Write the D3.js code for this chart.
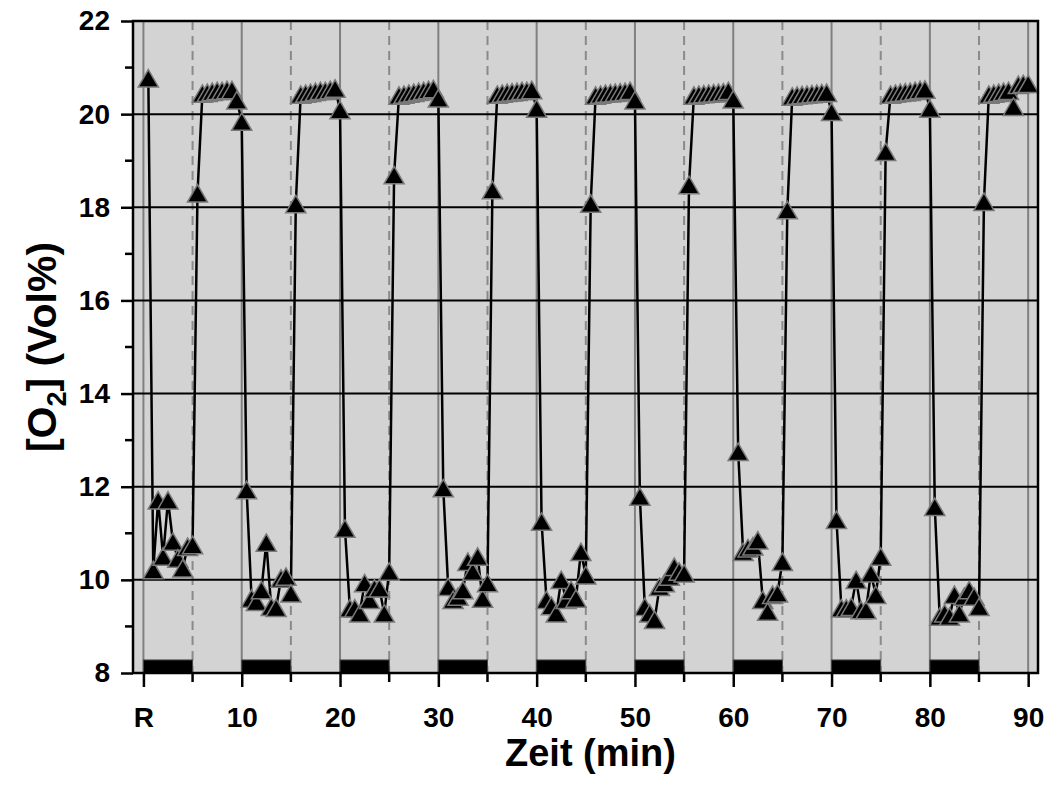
<!DOCTYPE html>
<html>
<head>
<meta charset="utf-8">
<script src="https://cdn.jsdelivr.net/npm/d3@7"></script>
<style>
  body { margin: 0; background: #fff; }
  svg text { font-family: 'Liberation Sans', Arial, sans-serif; font-weight: bold; fill: #000; }
</style>
</head>
<body>
<div class="chart"></div>
<script>
// O2 concentration, sampled every 0.5 min; one array per 10-min cycle (t = 10k + 0.5 ... 10k + 10)
const STEP = 0.5
const cycle00 = [20.77, 10.21, 11.71, 10.5, 11.71, 10.82, 10.46, 10.25, 10.71, 10.75, 18.3, 20.44, 20.46, 20.48, 20.5, 20.5, 20.52, 20.52, 20.3, 19.84]
const cycle10 = [11.93, 9.6, 9.53, 9.78, 10.8, 9.42, 9.4, 10.03, 10.07, 9.71, 18.07, 20.42, 20.44, 20.46, 20.48, 20.5, 20.5, 20.52, 20.55, 20.09]
const cycle20 = [11.1, 9.39, 9.39, 9.28, 9.93, 9.57, 9.82, 9.82, 9.28, 10.18, 18.69, 20.4, 20.42, 20.44, 20.46, 20.48, 20.5, 20.52, 20.54, 20.34]
const cycle30 = [11.97, 9.85, 9.57, 9.64, 9.78, 10.39, 10.18, 10.5, 9.6, 9.93, 18.37, 20.42, 20.44, 20.46, 20.47, 20.48, 20.5, 20.5, 20.52, 20.12]
const cycle40 = [11.25, 9.57, 9.44, 9.28, 10.0, 9.57, 9.78, 9.6, 10.6, 10.1, 18.08, 20.4, 20.42, 20.44, 20.45, 20.46, 20.47, 20.48, 20.5, 20.3]
const cycle50 = [11.79, 9.42, 9.28, 9.14, 9.85, 9.93, 10.07, 10.28, 10.18, 10.14, 18.48, 20.4, 20.42, 20.43, 20.44, 20.45, 20.46, 20.47, 20.5, 20.32]
const cycle60 = [12.75, 10.6, 10.68, 10.72, 10.85, 9.57, 9.32, 9.68, 9.71, 10.39, 17.94, 20.38, 20.4, 20.41, 20.42, 20.43, 20.44, 20.45, 20.46, 20.05]
const cycle70 = [11.29, 9.39, 9.39, 9.42, 10.0, 9.35, 9.35, 10.14, 9.68, 10.5, 19.19, 20.42, 20.44, 20.46, 20.47, 20.48, 20.5, 20.52, 20.53, 20.12]
const cycle80 = [11.57, 9.21, 9.28, 9.21, 9.68, 9.28, 9.64, 9.78, 9.64, 9.42, 18.12, 20.42, 20.44, 20.46, 20.48, 20.5, 20.16, 20.63, 20.65, 20.65]

// low-O2 phases (black bars on the x axis)
const phaseStarts = [0, 10, 20, 30, 40, 50, 60, 70, 80]
const phaseLength = 5

const xTicks = [0, 10, 20, 30, 40, 50, 60, 70, 80, 90]
const xMinorTicks = [5, 15, 25, 35, 45, 55, 65, 75, 85]
const yTicks = [8, 10, 12, 14, 16, 18, 20, 22]
const yMinorTicks = [9, 11, 13, 15, 17, 19, 21]
const yGrid = [10, 12, 14, 16, 18, 20]

const values = [].concat(cycle00, cycle10, cycle20, cycle30, cycle40, cycle50, cycle60, cycle70, cycle80)
const data = values.map((v, i) => ({ t: (i + 1) * STEP, o2: v }))

const W = 1049
const H = 789
const margin = {top: 21, right: 11, bottom: 116, left: 133}
const width = W - margin.left - margin.right
const height = H - margin.top - margin.bottom

const x = d3.scaleLinear().domain([-1.06, 91.0]).range([0, width])
const y = d3.scaleLinear().domain([8, 22]).range([height, 0])

const svg = d3.select('.chart').append('svg')
  .attr('width', W)
  .attr('height', H)

const g = svg.append('g')
  .attr('transform', `translate(${margin.left},${margin.top})`)

g.append('rect')
  .attr('width', width)
  .attr('height', height)
  .attr('fill', '#d3d3d3')

// vertical reference lines
g.selectAll('line.vmajor').data(xTicks).enter().append('line')
  .attr('class', 'vmajor')
  .attr('x1', d => x(d)).attr('x2', d => x(d))
  .attr('y1', 0).attr('y2', height)
  .attr('stroke', '#808080')
  .attr('stroke-width', 2)

g.selectAll('line.vminor').data(xMinorTicks).enter().append('line')
  .attr('class', 'vminor')
  .attr('x1', d => x(d)).attr('x2', d => x(d))
  .attr('y1', 0).attr('y2', height)
  .attr('stroke', '#8a8a8a')
  .attr('stroke-width', 2)
  .attr('stroke-dasharray', '9,6')

g.selectAll('line.hgrid').data(yGrid).enter().append('line')
  .attr('class', 'hgrid')
  .attr('x1', 0).attr('x2', width)
  .attr('y1', d => y(d)).attr('y2', d => y(d))
  .attr('stroke', '#000')
  .attr('stroke-width', 2)

// phase bars
g.selectAll('rect.phase').data(phaseStarts).enter().append('rect')
  .attr('class', 'phase')
  .attr('x', d => x(d))
  .attr('width', d => x(d + phaseLength) - x(d))
  .attr('y', y(8.28))
  .attr('height', y(8) - y(8.28))
  .attr('fill', '#000')
  .attr('stroke', '#444')
  .attr('stroke-width', 1)

// series line
const line = d3.line().x(d => x(d.t)).y(d => y(d.o2))
g.append('path')
  .datum(data)
  .attr('fill', 'none')
  .attr('stroke', '#000')
  .attr('stroke-width', 2.5)
  .attr('stroke-linejoin', 'round')
  .attr('d', line)

// triangles, centred on their bounding box
const triSize = 175
const triR = Math.sqrt(triSize / (3 * Math.sqrt(3)))
const tri = d3.symbol().type(d3.symbolTriangle).size(triSize)
g.selectAll('path.item').data(data).enter().append('path')
  .attr('class', 'item')
  .attr('d', tri)
  .attr('transform', d => `translate(${x(d.t)},${y(d.o2) + triR / 2})`)
  .attr('fill', '#000')
  .attr('stroke', '#7a7a7a')
  .attr('stroke-width', 1.5)

// frame
g.append('rect')
  .attr('width', width)
  .attr('height', height)
  .attr('fill', 'none')
  .attr('stroke', '#000')
  .attr('stroke-width', 2.5)

// axes
const axisY = d3.axisLeft(y).tickValues(yTicks).tickSize(12).tickPadding(11)
const gy = g.append('g').call(axisY)
gy.select('.domain').remove()
gy.selectAll('.tick line').attr('stroke', '#000').attr('stroke-width', 2.5)
gy.selectAll('.tick text').style('font-size', '28px')

g.append('g').selectAll('line').data(yMinorTicks).enter().append('line')
  .attr('x1', -8).attr('x2', 0)
  .attr('y1', d => y(d)).attr('y2', d => y(d))
  .attr('stroke', '#000').attr('stroke-width', 2.5)

const axisX = d3.axisBottom(x).tickValues(xTicks).tickSize(14).tickPadding(20)
  .tickFormat(d => d === 0 ? 'R' : d)
const gx = g.append('g').attr('transform', `translate(0,${height})`).call(axisX)
gx.select('.domain').remove()
gx.selectAll('.tick line').attr('stroke', '#000').attr('stroke-width', 2.5)
gx.selectAll('.tick text').style('font-size', '28px')

g.append('g').attr('transform', `translate(0,${height})`)
  .selectAll('line').data(xMinorTicks).enter().append('line')
  .attr('x1', d => x(d)).attr('x2', d => x(d))
  .attr('y1', 0).attr('y2', 9)
  .attr('stroke', '#000').attr('stroke-width', 2.5)

// axis titles
svg.append('text')
  .attr('x', margin.left + width / 2 + 5)
  .attr('y', 766)
  .attr('text-anchor', 'middle')
  .style('font-size', '38px')
  .text('Zeit (min)')

const yTitle = svg.append('text')
  .attr('transform', `translate(56,${margin.top + height / 2}) rotate(-90)`)
  .attr('text-anchor', 'middle')
  .style('font-size', '41px')
yTitle.append('tspan').text('[O')
yTitle.append('tspan').attr('dy', 10).style('font-size', '27px').text('2')
yTitle.append('tspan').attr('dy', -10).text('] (Vol%)')
</script>
</body>
</html>
